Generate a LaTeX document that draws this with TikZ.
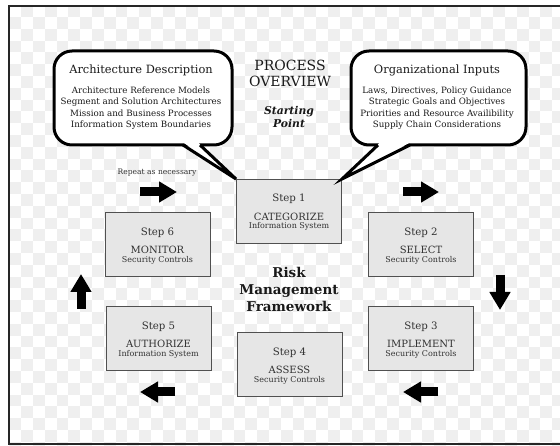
\documentclass[tikz,border=0pt]{standalone}
\usepackage{fontspec}
\setmainfont{DejaVu Serif}
\usetikzlibrary{arrows.meta}
\definecolor{checker}{RGB}{239,239,239}
\definecolor{boxfill}{RGB}{230,230,230}
\definecolor{boxline}{RGB}{80,80,80}
\definecolor{ink}{RGB}{25,25,25}
\definecolor{softink}{RGB}{50,50,50}

\begin{document}
\begin{tikzpicture}[x=1pt,y=-1pt,
  stepbox/.style={draw=boxline, line width=1pt, fill=boxfill,
    minimum width=105pt, minimum height=64pt, inner sep=0pt},
  stepno/.style={anchor=base, inner sep=0pt, text=softink,
    font=\fontsize{10.2}{12}\selectfont},
  stepname/.style={anchor=base, inner sep=0pt, text=softink,
    font=\fontsize{10}{12}\selectfont},
  stepsub/.style={anchor=base, inner sep=0pt, text=softink,
    font=\fontsize{8}{9}\selectfont},
  bubble/.style={draw=black, line width=3pt, fill=white,
    rounded corners=18pt, minimum height=94pt, inner sep=0pt},
  tailline/.style={draw=black, line width=3pt, line join=miter},
  bubbletitle/.style={inner sep=0pt, text=ink, font=\fontsize{11.4}{13}\selectfont},
  bubblelist/.style={inner sep=0pt, text=ink, align=center,
    font=\fontsize{8.7}{11.4}\selectfont},
  flow/.style={line width=9pt, black, -{Triangle[length=18pt,width=20pt]}},
]
% page area and faint checker ground
\clip (0,0) rectangle (560,446);
\fill[white] (0,0) rectangle (560,446);
\foreach \i in {0,...,47}{
  \foreach \j in {0,...,37}{
    \ifodd\numexpr\i+\j\relax
      \fill[checker] (9.4+11.8*\i,5.2+11.8*\j) rectangle ++(11.8,11.8);
    \fi
  }
}
\draw[line width=1.5pt, black!85] (9,6) rectangle (580,444);

% the six steps
\node[stepbox] (s1) at (289,211.5) {};
\node[stepbox] (s2) at (421,245) {};
\node[stepbox] (s3) at (421,339) {};
\node[stepbox] (s4) at (289.5,365) {};
\node[stepbox] (s5) at (158.5,339) {};
\node[stepbox] (s6) at (157.5,245) {};

\foreach \s/\n/\t/\u in {s1/1/CATEGORIZE/Information System,
                         s2/2/SELECT/Security Controls,
                         s3/3/IMPLEMENT/Security Controls,
                         s4/4/ASSESS/Security Controls,
                         s5/5/AUTHORIZE/Information System,
                         s6/6/MONITOR/Security Controls}{
  \node[stepno]   (\s no)   at ([yshift=9.9pt]\s.center)   {Step \n};
  \node[stepname] (\s name) at ([yshift=-8.8pt]\s.center)  {\t};
  \node[stepsub]  (\s sub)  at ([yshift=-17.5pt]\s.center) {\u};
}

% speech bubbles feeding step 1
\node[bubble, minimum width=178pt] (arch) at (143,98) {};
\coordinate (archA) at (183,145);
\coordinate (archB) at (200,145);
\fill[white] (184.2,143.2) -- (198.8,143.2) -- (s1.north west) -- cycle;
\draw[tailline] (archA) -- (s1.north west) -- (archB);

\node[bubble, minimum width=175pt] (org) at (438.5,98) {};
\coordinate (orgA) at (378,145);
\coordinate (orgB) at (410,145);
\fill[white] (379.2,143.2) -- (408.8,143.2) -- (s1.north east) -- cycle;
\draw[tailline] (orgA) -- (s1.north east) -- (orgB);

\node[bubbletitle] (archT) at (141,70) {Architecture Description};
\node[bubblelist] (archL) at (141,108) {Architecture Reference Models\\
  Segment and Solution Architectures\\Mission and Business Processes\\
  Information System Boundaries};
\node[bubbletitle] (orgT) at (437,70) {Organizational Inputs};
\node[bubblelist] (orgL) at (437,108) {Laws, Directives, Policy Guidance\\
  Strategic Goals and Objectives\\Priorities and Resource Availibility\\
  Supply Chain Considerations};

% headings
\node[inner sep=0pt, align=center, text=ink, font=\fontsize{14}{16}\selectfont]
  (overview) at (290,73) {PROCESS\\OVERVIEW};
\node[inner sep=0pt, align=center, text=ink,
  font=\fontsize{10.8}{12.5}\selectfont\bfseries\itshape]
  (start) at (289,117) {Starting\\Point};
\node[inner sep=0pt, align=center, text=ink,
  font=\fontsize{13.5}{17.3}\selectfont\bfseries]
  (rmf) at (289,289.5) {Risk\\Management\\Framework};
\node[inner sep=0pt, text=softink, font=\fontsize{7.6}{9}\selectfont]
  (repeat) at (157,173) {Repeat as necessary};

% cycle arrows
\coordinate (a1s) at (140,192);  \coordinate (a1e) at (177,192);
\coordinate (a2s) at (403,192);  \coordinate (a2e) at (439,192);
\coordinate (a3s) at (500,275);  \coordinate (a3e) at (500,310);
\coordinate (a4s) at (438,392);  \coordinate (a4e) at (403,392);
\coordinate (a5s) at (175,392);  \coordinate (a5e) at (140,392);
\coordinate (a6s) at (81,309);   \coordinate (a6e) at (81,274);
\foreach \k in {1,...,6}{ \draw[flow] (a\k s) -- (a\k e); }
\end{tikzpicture}
\end{document}
